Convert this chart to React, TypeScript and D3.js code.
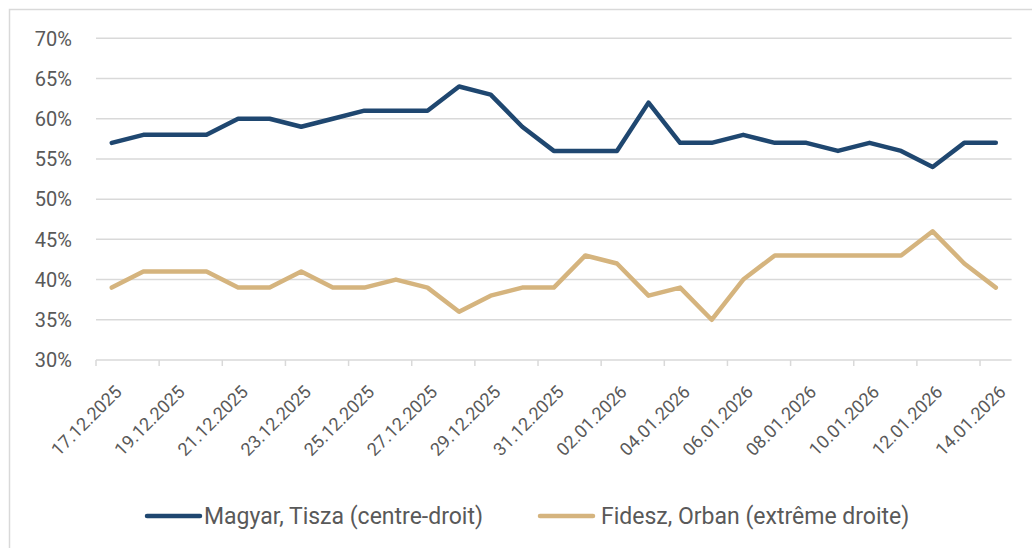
import React from "react";
import * as d3 from "d3";

// daily poll values, 17.12.2025 -> 14.01.2026
const dates = [
  "17.12.2025", "18.12.2025", "19.12.2025", "20.12.2025", "21.12.2025", "22.12.2025",
  "23.12.2025", "24.12.2025", "25.12.2025", "26.12.2025", "27.12.2025", "28.12.2025",
  "29.12.2025", "30.12.2025", "31.12.2025", "01.01.2026", "02.01.2026", "03.01.2026",
  "04.01.2026", "05.01.2026", "06.01.2026", "07.01.2026", "08.01.2026", "09.01.2026",
  "10.01.2026", "11.01.2026", "12.01.2026", "13.01.2026", "14.01.2026",
];
const magyar = [57, 58, 58, 58, 60, 60, 59, 60, 61, 61, 61, 64, 63, 59, 56, 56, 56, 62, 57, 57, 58, 57, 57, 56, 57, 56, 54, 57, 57];
const fidesz = [39, 41, 41, 41, 39, 39, 41, 39, 39, 40, 39, 36, 38, 39, 39, 43, 42, 38, 39, 35, 40, 43, 43, 43, 43, 43, 46, 42, 39];
const yTicks = [30, 35, 40, 45, 50, 55, 60, 65, 70];

const seriesList = [
  { name: "Magyar, Tisza (centre-droit)", values: magyar, color: "#1F4770" },
  { name: "Fidesz, Orban (extrême droite)", values: fidesz, color: "#D5B47E" },
];

const W = 1032;
const H = 548;
const FONT = "Roboto, 'Noto Sans', sans-serif";
const TXT = "#595959";
const GRID = "#D9D9D9";

export default function App() {
  const left = 96;
  const right = 1011.6;
  const top = 38.3;
  const bottom = 360;

  const x = d3.scaleBand<string>().domain(dates).range([left, right]);
  const y = d3.scaleLinear().domain([30, 70]).range([bottom, top]);
  const cx = (d: string) => (x(d) as number) + x.bandwidth() / 2;

  const line = d3
    .line<number>()
    .x((_, i) => cx(dates[i]))
    .y((v) => y(v));

  // tick every 2 categories, on the band boundaries
  const tickIdx = d3.range(0, dates.length + 1, 2);

  const legendItems = [
    { lx: 147, tx: 204 },
    { lx: 540, tx: 601 },
  ];

  return (
    <svg
      width={W}
      height={H}
      style={{ position: "absolute", left: 0, top: 0, background: "#fff" }}
    >
      <rect x={9.5} y={9.5} width={1040} height={560} fill="#fff" stroke={GRID} strokeWidth={1.5} />

      {/* gridlines + y labels */}
      {yTicks.map((t) => (
        <g key={t}>
          {t > 30 && (
            <line x1={left} x2={right} y1={y(t)} y2={y(t)} stroke={GRID} strokeWidth={1.5} />
          )}
          <text
            x={72}
            y={y(t)}
            dy="0.36em"
            textAnchor="end"
            fontFamily={FONT}
            fontSize={20}
            fill={TXT}
          >
            {t}%
          </text>
        </g>
      ))}

      {/* x axis */}
      <line x1={left} x2={right} y1={bottom} y2={bottom} stroke={GRID} strokeWidth={1.5} />
      {tickIdx.map((i) => {
        const tx = left + i * x.bandwidth();
        return tx <= right ? (
          <line key={i} x1={tx} x2={tx} y1={bottom} y2={bottom + 6} stroke={GRID} strokeWidth={1.5} />
        ) : null;
      })}
      {dates.map((d, i) =>
        i % 2 === 0 ? (
          <text
            key={d}
            transform={`translate(${cx(d) + 11}, 393) rotate(-45)`}
            textAnchor="end"
            fontFamily={FONT}
            fontSize={18}
            fill={TXT}
          >
            {d}
          </text>
        ) : null
      )}

      {/* lines */}
      {seriesList.map((s) => (
        <path
          key={s.name}
          d={line(s.values) ?? ""}
          fill="none"
          stroke={s.color}
          strokeWidth={4.5}
          strokeLinejoin="round"
          strokeLinecap="round"
        />
      ))}

      {/* legend */}
      {seriesList.map((s, i) => (
        <g key={s.name}>
          <line
            x1={legendItems[i].lx}
            x2={legendItems[i].lx + 53}
            y1={516}
            y2={516}
            stroke={s.color}
            strokeWidth={4.5}
            strokeLinecap="round"
          />
          <text
            x={legendItems[i].tx}
            y={516}
            dy="0.36em"
            fontFamily={FONT}
            fontSize={23}
            fill={TXT}
          >
            {s.name}
          </text>
        </g>
      ))}
    </svg>
  );
}
